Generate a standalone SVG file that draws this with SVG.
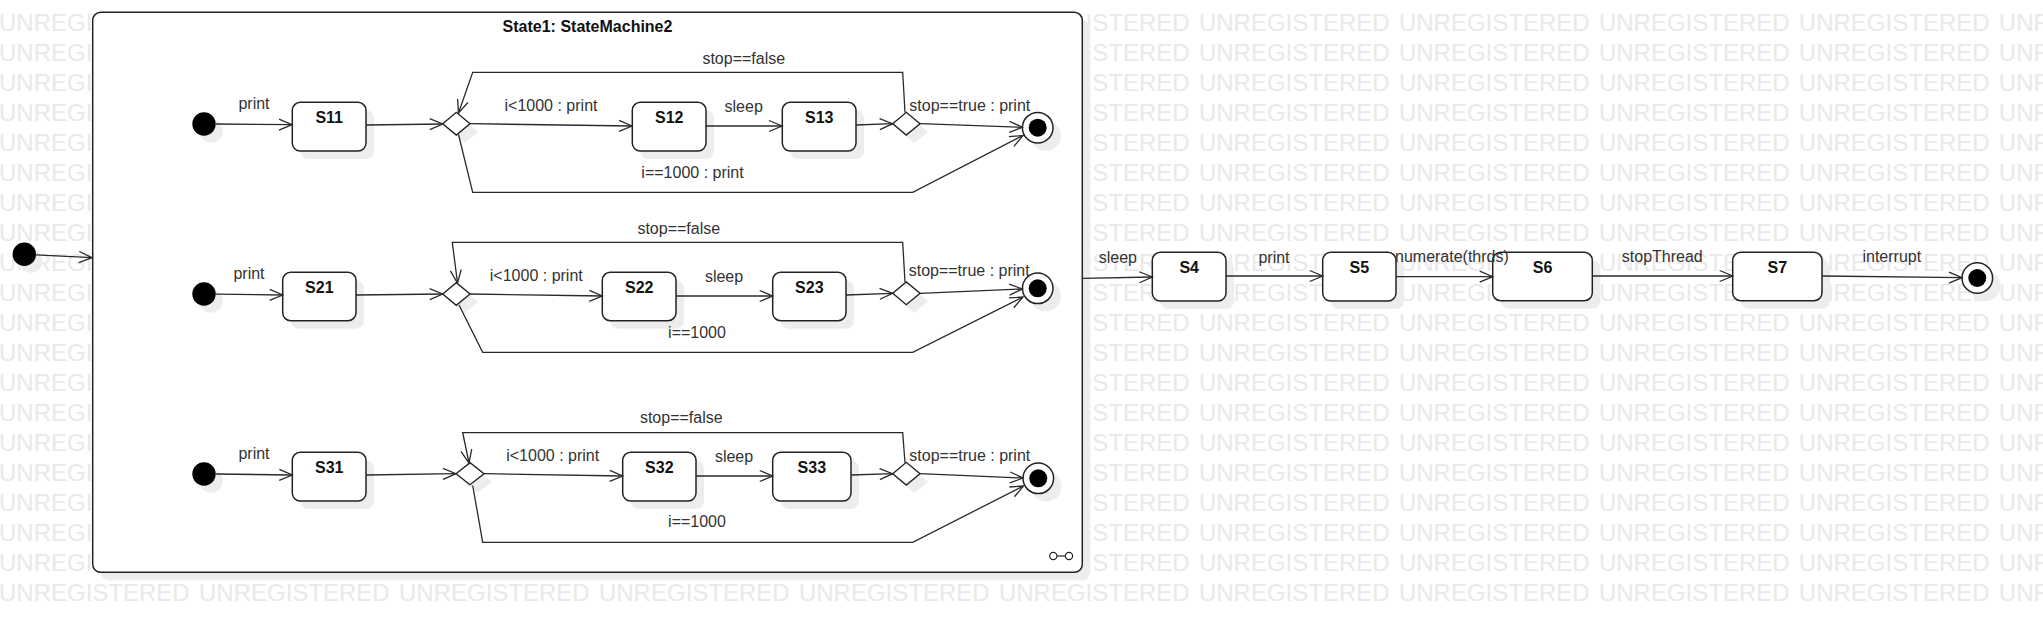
<svg xmlns="http://www.w3.org/2000/svg" width="2043" height="622" viewBox="0 0 2043 622">
<style>
text{font-family:"Liberation Sans",Arial,sans-serif}
.wm{font-size:24px;fill:#e9e9e9;word-spacing:2.63px}
.lbl{font-size:16px;fill:#333}
.nl{font-size:16px;font-weight:bold;fill:#111;text-anchor:middle}
.mid{text-anchor:middle}
.box{fill:#fff;stroke:#222;stroke-width:1.5}
.sh{fill:#ededed}
.ini{fill:#000}
.fin{fill:#fff;stroke:#222;stroke-width:1.5}
.dia{fill:#fff;stroke:#222;stroke-width:1.4}
.c{fill:none;stroke:#2a2a2a;stroke-width:1.3;marker-end:url(#arr)}
</style>
<defs>
<marker id="arr" markerUnits="userSpaceOnUse" markerWidth="16" markerHeight="14" viewBox="0 0 16 14" refX="14" refY="7" orient="auto">
<path d="M1,1.5 L14,7 L1,12.5" fill="none" stroke="#2a2a2a" stroke-width="1.3"/>
</marker>
</defs>
<rect width="2043" height="622" fill="#fff"/>
<g id="watermark">
<text class="wm" x="-1" y="30.7">UNREGISTERED UNREGISTERED UNREGISTERED UNREGISTERED UNREGISTERED UNREGISTERED UNREGISTERED UNREGISTERED UNREGISTERED UNREGISTERED UNREGISTERED</text>
<text class="wm" x="-1" y="60.7">UNREGISTERED UNREGISTERED UNREGISTERED UNREGISTERED UNREGISTERED UNREGISTERED UNREGISTERED UNREGISTERED UNREGISTERED UNREGISTERED UNREGISTERED</text>
<text class="wm" x="-1" y="90.7">UNREGISTERED UNREGISTERED UNREGISTERED UNREGISTERED UNREGISTERED UNREGISTERED UNREGISTERED UNREGISTERED UNREGISTERED UNREGISTERED UNREGISTERED</text>
<text class="wm" x="-1" y="120.7">UNREGISTERED UNREGISTERED UNREGISTERED UNREGISTERED UNREGISTERED UNREGISTERED UNREGISTERED UNREGISTERED UNREGISTERED UNREGISTERED UNREGISTERED</text>
<text class="wm" x="-1" y="150.7">UNREGISTERED UNREGISTERED UNREGISTERED UNREGISTERED UNREGISTERED UNREGISTERED UNREGISTERED UNREGISTERED UNREGISTERED UNREGISTERED UNREGISTERED</text>
<text class="wm" x="-1" y="180.7">UNREGISTERED UNREGISTERED UNREGISTERED UNREGISTERED UNREGISTERED UNREGISTERED UNREGISTERED UNREGISTERED UNREGISTERED UNREGISTERED UNREGISTERED</text>
<text class="wm" x="-1" y="210.7">UNREGISTERED UNREGISTERED UNREGISTERED UNREGISTERED UNREGISTERED UNREGISTERED UNREGISTERED UNREGISTERED UNREGISTERED UNREGISTERED UNREGISTERED</text>
<text class="wm" x="-1" y="240.7">UNREGISTERED UNREGISTERED UNREGISTERED UNREGISTERED UNREGISTERED UNREGISTERED UNREGISTERED UNREGISTERED UNREGISTERED UNREGISTERED UNREGISTERED</text>
<text class="wm" x="-1" y="270.7">UNREGISTERED UNREGISTERED UNREGISTERED UNREGISTERED UNREGISTERED UNREGISTERED UNREGISTERED UNREGISTERED UNREGISTERED UNREGISTERED UNREGISTERED</text>
<text class="wm" x="-1" y="300.7">UNREGISTERED UNREGISTERED UNREGISTERED UNREGISTERED UNREGISTERED UNREGISTERED UNREGISTERED UNREGISTERED UNREGISTERED UNREGISTERED UNREGISTERED</text>
<text class="wm" x="-1" y="330.7">UNREGISTERED UNREGISTERED UNREGISTERED UNREGISTERED UNREGISTERED UNREGISTERED UNREGISTERED UNREGISTERED UNREGISTERED UNREGISTERED UNREGISTERED</text>
<text class="wm" x="-1" y="360.7">UNREGISTERED UNREGISTERED UNREGISTERED UNREGISTERED UNREGISTERED UNREGISTERED UNREGISTERED UNREGISTERED UNREGISTERED UNREGISTERED UNREGISTERED</text>
<text class="wm" x="-1" y="390.7">UNREGISTERED UNREGISTERED UNREGISTERED UNREGISTERED UNREGISTERED UNREGISTERED UNREGISTERED UNREGISTERED UNREGISTERED UNREGISTERED UNREGISTERED</text>
<text class="wm" x="-1" y="420.7">UNREGISTERED UNREGISTERED UNREGISTERED UNREGISTERED UNREGISTERED UNREGISTERED UNREGISTERED UNREGISTERED UNREGISTERED UNREGISTERED UNREGISTERED</text>
<text class="wm" x="-1" y="450.7">UNREGISTERED UNREGISTERED UNREGISTERED UNREGISTERED UNREGISTERED UNREGISTERED UNREGISTERED UNREGISTERED UNREGISTERED UNREGISTERED UNREGISTERED</text>
<text class="wm" x="-1" y="480.7">UNREGISTERED UNREGISTERED UNREGISTERED UNREGISTERED UNREGISTERED UNREGISTERED UNREGISTERED UNREGISTERED UNREGISTERED UNREGISTERED UNREGISTERED</text>
<text class="wm" x="-1" y="510.7">UNREGISTERED UNREGISTERED UNREGISTERED UNREGISTERED UNREGISTERED UNREGISTERED UNREGISTERED UNREGISTERED UNREGISTERED UNREGISTERED UNREGISTERED</text>
<text class="wm" x="-1" y="540.7">UNREGISTERED UNREGISTERED UNREGISTERED UNREGISTERED UNREGISTERED UNREGISTERED UNREGISTERED UNREGISTERED UNREGISTERED UNREGISTERED UNREGISTERED</text>
<text class="wm" x="-1" y="570.7">UNREGISTERED UNREGISTERED UNREGISTERED UNREGISTERED UNREGISTERED UNREGISTERED UNREGISTERED UNREGISTERED UNREGISTERED UNREGISTERED UNREGISTERED</text>
<text class="wm" x="-1" y="600.7">UNREGISTERED UNREGISTERED UNREGISTERED UNREGISTERED UNREGISTERED UNREGISTERED UNREGISTERED UNREGISTERED UNREGISTERED UNREGISTERED UNREGISTERED</text>
</g>

<g id="State1">
<rect class="sh" x="100.7" y="20.3" width="989.6" height="560" rx="8"/>
<rect class="box" x="92.7" y="12.3" width="989.6" height="560" rx="8"/>
<text class="nl" x="587.5" y="32.3">State1: StateMachine2</text>
<circle cx="1053.3" cy="556" r="3.6" fill="#fff" stroke="#222" stroke-width="1.2"/>
<circle cx="1069" cy="556" r="3.6" fill="#fff" stroke="#222" stroke-width="1.2"/>
<line x1="1056.9" y1="556" x2="1065.4" y2="556" stroke="#222" stroke-width="1.2"/>
</g>

<g id="Initial0"><circle class="sh" cx="31" cy="261" r="11.7"/><circle class="ini" cx="24.3" cy="254.3" r="11.7"/></g>

<!-- row 1 -->
<g id="Initial1"><circle class="sh" cx="211" cy="131" r="11.7"/><circle class="ini" cx="204" cy="124" r="11.7"/></g>
<g id="S11"><rect class="sh" x="300.3" y="110.3" width="73.7" height="48.7" rx="8"/><rect class="box" x="292.3" y="102.3" width="73.7" height="48.7" rx="8"/><text class="nl" x="329.2" y="123.3">S11</text></g>
<g id="D1a"><path class="sh" d="M450.7,131.7 L464.3,120.3 L478,131.7 L464.3,143 Z"/><path class="dia" d="M442.7,123.7 L456.3,112.3 L470,123.7 L456.3,135 Z"/></g>
<g id="S12"><rect class="sh" x="640.3" y="110.3" width="73.7" height="48.7" rx="8"/><rect class="box" x="632.3" y="102.3" width="73.7" height="48.7" rx="8"/><text class="nl" x="669.2" y="123.3">S12</text></g>
<g id="S13"><rect class="sh" x="790.3" y="110.3" width="73.7" height="48.7" rx="8"/><rect class="box" x="782.3" y="102.3" width="73.7" height="48.7" rx="8"/><text class="nl" x="819.2" y="123.3">S13</text></g>
<g id="D1b"><path class="sh" d="M900.7,131.7 L914.3,120.3 L928,131.7 L914.3,143 Z"/><path class="dia" d="M892.7,123.7 L906.3,112.3 L920,123.7 L906.3,135 Z"/></g>
<g id="Final1"><circle class="sh" cx="1045.7" cy="135.7" r="15.3"/><circle class="fin" cx="1037.7" cy="127.7" r="15.3"/><circle class="ini" cx="1037.7" cy="127.7" r="9"/></g>

<!-- row 2 -->
<g id="Initial2"><circle class="sh" cx="211" cy="301" r="11.7"/><circle class="ini" cx="204" cy="294" r="11.7"/></g>
<g id="S21"><rect class="sh" x="290.7" y="280.3" width="73.3" height="48.4" rx="8"/><rect class="box" x="282.7" y="272.3" width="73.3" height="48.4" rx="8"/><text class="nl" x="319.3" y="293.3">S21</text></g>
<g id="D2a"><path class="sh" d="M450.7,302 L464.3,290.6 L478,302 L464.3,313.4 Z"/><path class="dia" d="M442.7,294 L456.3,282.6 L470,294 L456.3,305.4 Z"/></g>
<g id="S22"><rect class="sh" x="610.3" y="280.3" width="73.7" height="48.4" rx="8"/><rect class="box" x="602.3" y="272.3" width="73.7" height="48.4" rx="8"/><text class="nl" x="639.2" y="293.3">S22</text></g>
<g id="S23"><rect class="sh" x="780.7" y="280.3" width="73.3" height="48.4" rx="8"/><rect class="box" x="772.7" y="272.3" width="73.3" height="48.4" rx="8"/><text class="nl" x="809.3" y="293.3">S23</text></g>
<g id="D2b"><path class="sh" d="M900.7,301.3 L914.3,289.9 L928,301.3 L914.3,312.7 Z"/><path class="dia" d="M892.7,293.3 L906.3,281.9 L920,293.3 L906.3,304.7 Z"/></g>
<g id="Final2"><circle class="sh" cx="1045.7" cy="296.3" r="15.3"/><circle class="fin" cx="1037.7" cy="288.3" r="15.3"/><circle class="ini" cx="1037.7" cy="288.3" r="9"/></g>

<!-- row 3 -->
<g id="Initial3"><circle class="sh" cx="211" cy="481" r="11.7"/><circle class="ini" cx="204" cy="474" r="11.7"/></g>
<g id="S31"><rect class="sh" x="300.3" y="460.3" width="73.7" height="48.7" rx="8"/><rect class="box" x="292.3" y="452.3" width="73.7" height="48.7" rx="8"/><text class="nl" x="329.2" y="473.3">S31</text></g>
<g id="D3a"><path class="sh" d="M464,481.7 L478,470.7 L492,481.7 L478,492.7 Z"/><path class="dia" d="M456,473.7 L470,462.7 L484,473.7 L470,484.7 Z"/></g>
<g id="S32"><rect class="sh" x="630.7" y="460.3" width="73.3" height="48.7" rx="8"/><rect class="box" x="622.7" y="452.3" width="73.3" height="48.7" rx="8"/><text class="nl" x="659.3" y="473.3">S32</text></g>
<g id="S33"><rect class="sh" x="780.7" y="460.3" width="78.3" height="48.7" rx="8"/><rect class="box" x="772.7" y="452.3" width="78.3" height="48.7" rx="8"/><text class="nl" x="811.8" y="473.3">S33</text></g>
<g id="D3b"><path class="sh" d="M900.7,481.7 L914.3,470.3 L928,481.7 L914.3,493 Z"/><path class="dia" d="M892.7,473.7 L906.3,462.3 L920,473.7 L906.3,485 Z"/></g>
<g id="Final3"><circle class="sh" cx="1046.3" cy="486.3" r="15.3"/><circle class="fin" cx="1038.3" cy="478.3" r="15.3"/><circle class="ini" cx="1038.3" cy="478.3" r="9"/></g>

<!-- outer chain -->
<g id="S4"><rect class="sh" x="1160.3" y="260.3" width="73.7" height="48.7" rx="8"/><rect class="box" x="1152.3" y="252.3" width="73.7" height="48.7" rx="8"/><text class="nl" x="1189.2" y="273.3">S4</text></g>
<g id="S5"><rect class="sh" x="1330.7" y="260.3" width="73.3" height="48.7" rx="8"/><rect class="box" x="1322.7" y="252.3" width="73.3" height="48.7" rx="8"/><text class="nl" x="1359.3" y="273.3">S5</text></g>
<g id="S6"><rect class="sh" x="1500.7" y="260.3" width="99.6" height="48.4" rx="8"/><rect class="box" x="1492.7" y="252.3" width="99.6" height="48.4" rx="8"/><text class="nl" x="1542.5" y="273.3">S6</text></g>
<g id="S7"><rect class="sh" x="1740.7" y="260.3" width="89.3" height="48.4" rx="8"/><rect class="box" x="1732.7" y="252.3" width="89.3" height="48.4" rx="8"/><text class="nl" x="1777.3" y="273.3">S7</text></g>
<g id="Final4"><circle class="sh" cx="1985.3" cy="286" r="15.3"/><circle class="fin" cx="1977.3" cy="278" r="15.3"/><circle class="ini" cx="1977.3" cy="278" r="9"/></g>

<g id="connectors">
<path class="c" d="M36,254.8 L92,257.7"/>
<!-- row 1 -->
<path class="c" d="M216,124 L292,124.7"/>
<text class="lbl mid" x="254" y="108.7">print</text>
<path class="c" d="M366,125 L442.7,124"/>
<path class="c" d="M470,123.7 L632,126"/>
<text class="lbl mid" x="551" y="111">i&lt;1000 : print</text>
<path class="c" d="M706,126 L782,126"/>
<text class="lbl mid" x="743.7" y="111.7">sleep</text>
<path class="c" d="M856,125 L892.7,123.7"/>
<path class="c" d="M920,123.7 L1022.4,127.3"/>
<text class="lbl" x="909.3" y="111">stop==true : print</text>
<path class="c" d="M905,112.5 L902.7,72.3 L472.7,72.3 L458.5,113"/>
<text class="lbl mid" x="743.8" y="64">stop==false</text>
<path class="c" d="M458.5,134.5 L472.7,192.3 L912.7,192.3 L1023,135.5"/>
<text class="lbl mid" x="692.5" y="178.3">i==1000 : print</text>
<!-- row 2 -->
<path class="c" d="M216,294.2 L282.7,295"/>
<text class="lbl mid" x="249" y="278.7">print</text>
<path class="c" d="M356,295 L442.7,294"/>
<path class="c" d="M470,294 L602.3,296"/>
<text class="lbl mid" x="536.3" y="280.7">i&lt;1000 : print</text>
<path class="c" d="M676,296 L772.7,296"/>
<text class="lbl mid" x="724" y="281.7">sleep</text>
<path class="c" d="M846,295 L892.7,293.3"/>
<path class="c" d="M920,293.3 L1022.4,289"/>
<text class="lbl" x="908.7" y="275.7">stop==true : print</text>
<path class="c" d="M905,282.3 L902.7,242.3 L452.3,242.3 L457.5,283"/>
<text class="lbl mid" x="678.8" y="234">stop==false</text>
<path class="c" d="M459,305 L482.7,352.3 L912.7,352.3 L1023,297"/>
<text class="lbl mid" x="697" y="337.7">i==1000</text>
<!-- row 3 -->
<path class="c" d="M216,474 L292.3,475"/>
<text class="lbl mid" x="254" y="459.3">print</text>
<path class="c" d="M366,475 L456,473.7"/>
<path class="c" d="M484,473.7 L622.7,476"/>
<text class="lbl mid" x="552.7" y="460.7">i&lt;1000 : print</text>
<path class="c" d="M696,476 L772.7,476"/>
<text class="lbl mid" x="734" y="461.7">sleep</text>
<path class="c" d="M851,475 L892.7,473.7"/>
<path class="c" d="M920,473.7 L1023,478"/>
<text class="lbl" x="909.3" y="460.7">stop==true : print</text>
<path class="c" d="M905,462.7 L902.7,432.7 L462.7,432.7 L469,463"/>
<text class="lbl mid" x="681.3" y="422.7">stop==false</text>
<path class="c" d="M472.7,485.5 L482.7,542.3 L912.7,542.3 L1023.5,486"/>
<text class="lbl mid" x="697" y="527.3">i==1000</text>
<!-- outer chain -->
<path class="c" d="M1082.3,278.3 L1152.3,277"/>
<text class="lbl mid" x="1117.8" y="262.7">sleep</text>
<path class="c" d="M1226,276 L1322.7,276"/>
<text class="lbl mid" x="1274" y="262.7">print</text>
<path class="c" d="M1396,276.7 L1492.7,276.7"/>
<text class="lbl" x="1395" y="261.7">numerate(thrds)</text>
<path class="c" d="M1592.3,276 L1732.7,276"/>
<text class="lbl mid" x="1662.3" y="262">stopThread</text>
<path class="c" d="M1822,276 L1962,277.7"/>
<text class="lbl mid" x="1891.8" y="262">interrupt</text>
</g>
</svg>
